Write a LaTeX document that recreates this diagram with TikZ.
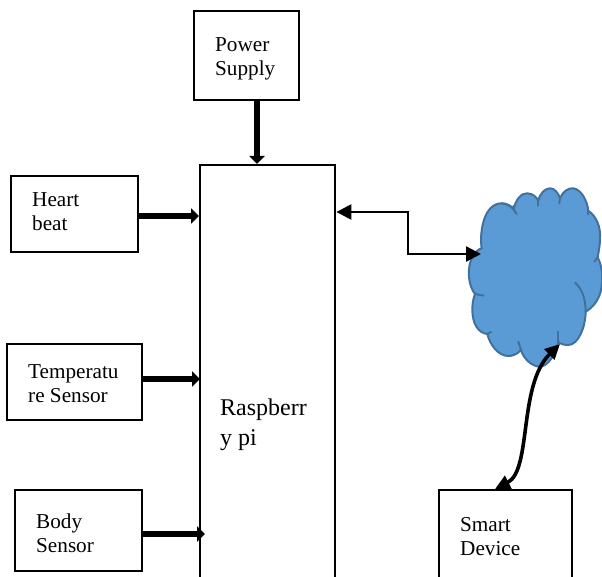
\documentclass[tikz,border=0pt]{standalone}
\usepackage{fontspec}
\setmainfont{Liberation Serif}
\usetikzlibrary{arrows.meta}
\definecolor{cloudfill}{HTML}{5B9BD5}
\definecolor{cloudline}{HTML}{41719C}
\tikzset{
  box/.style={draw=black,line width=2.4pt,fill=white,inner sep=0pt,anchor=north west},
  lbl/.style={anchor=base west,align=left,inner sep=0pt,font=\fontsize{21.2}{24}\selectfont},
  biglbl/.style={anchor=base west,align=left,inner sep=0pt,font=\fontsize{24}{30}\selectfont},
  thick arrow/.style={line width=6.5pt,-{Triangle[length=8pt,width=15pt]}},
  link/.style={line width=2.4pt,{Triangle[length=15pt,width=15pt]}-{Triangle[length=15pt,width=15pt]}},
  curved link/.style={line width=3.6pt,{Triangle[length=15pt,width=14pt]}-{Triangle[length=15pt,width=14pt]}},
  cloudedge/.style={draw=cloudline,line width=2pt,line cap=round}
}
\begin{document}
\begin{tikzpicture}[x=1pt,y=-1pt]
\clip (0,0) rectangle (602,577);
\fill[white] (0,0) rectangle (602,577);
% boxes
\node[box,minimum width=105pt,minimum height=89pt] (power) at (193,10) {};
\node[box,minimum width=135pt,minimum height=440pt] (rasp) at (199,164) {};
\node[box,minimum width=127pt,minimum height=76pt] (heart) at (10,175) {};
\node[box,minimum width=135pt,minimum height=76pt] (temp) at (6,343) {};
\node[box,minimum width=127pt,minimum height=81pt] (body) at (14,489) {};
\node[box,minimum width=133pt,minimum height=120pt] (smart) at (438,489) {};
% labels
\node[lbl] (tpower) at (215,76) {Power\\Supply};
\node[lbl] (theart) at (32,231) {Heart\\beat};
\node[lbl] (ttemp) at (28,402) {Temperatu\\re Sensor};
\node[lbl] (tbody) at (36,552) {Body\\Sensor};
\node[lbl] (tsmart) at (460,555) {Smart\\Device};
\node[biglbl] (trasp) at (220,445) {Raspberr\\y pi};
% cloud
\begin{scope}[shift={(440,170)},x=0.3333pt,y=-0.3333pt]
\path[fill=cloudfill,cloudedge]
 (125,235) .. controls (118,190) and (130,100) .. (185,100)
 .. controls (200,100) and (215,108) .. (222,118)
 .. controls (225,90) and (245,68) .. (262,70)
 .. controls (278,70) and (290,82) .. (295,92)
 .. controls (300,70) and (315,55) .. (330,55)
 .. controls (345,55) and (355,70) .. (360,85)
 .. controls (368,65) and (385,53) .. (400,55)
 .. controls (425,58) and (442,95) .. (445,122)
 .. controls (470,140) and (482,170) .. (480,205)
 .. controls (480,225) and (476,245) .. (473,262)
 .. controls (488,290) and (490,330) .. (482,365)
 .. controls (474,395) and (455,415) .. (437,425)
 .. controls (437,470) and (415,525) .. (385,525)
 .. controls (372,525) and (360,522) .. (355,515)
 .. controls (345,560) and (320,590) .. (300,590)
 .. controls (275,590) and (250,565) .. (243,540)
 .. controls (230,555) and (215,558) .. (205,558)
 .. controls (175,558) and (150,525) .. (142,492)
 .. controls (115,490) and (97,460) .. (97,420)
 .. controls (97,400) and (100,385) .. (105,372)
 .. controls (92,355) and (85,330) .. (87,300)
 .. controls (88,270) and (105,240) .. (125,235) -- cycle;
\draw[cloudedge] (185,100) .. controls (200,100) and (220,112) .. (230,132);
\draw[cloudedge] (222,118) .. controls (221,112) and (220,110) .. (220,108);
\draw[cloudedge] (295,92) -- (295,107);
\draw[cloudedge] (360,85) -- (358,100);
\draw[cloudedge] (445,122) -- (445,133);
\draw[cloudedge] (473,262) -- (463,275);
\draw[cloudedge] (405,338) .. controls (425,355) and (437,385) .. (437,425);
\draw[cloudedge] (355,515) -- (355,485);
\draw[cloudedge] (243,540) -- (235,515);
\draw[cloudedge] (142,492) -- (153,486);
\draw[cloudedge] (105,372) -- (131,377);
\end{scope}
\coordinate (cloudW) at (481,254);
\coordinate (cloudS) at (560,344);
\coordinate (bendA) at (408,212);
\coordinate (pw) at (257,0);
\coordinate (hy) at (0,216);
\coordinate (ty) at (0,379);
\coordinate (by) at (0,534);
\coordinate (sm) at (495,0);
% connectors
\draw[thick arrow] ([yshift=2pt]pw |- power.south) -- (pw |- rasp.north);
\draw[thick arrow] (heart.east |- hy) -- (rasp.west |- hy);
\draw[thick arrow] (temp.east |- ty) -- ([xshift=1pt]rasp.west |- ty);
\draw[thick arrow] (body.east |- by) -- ([xshift=6pt]rasp.west |- by);
\draw[link] (rasp.east |- bendA) -- (bendA) |- (cloudW);
\draw[curved link] (sm |- smart.north) .. controls (532,470) and (518,385) .. (cloudS);
\end{tikzpicture}
\end{document}
